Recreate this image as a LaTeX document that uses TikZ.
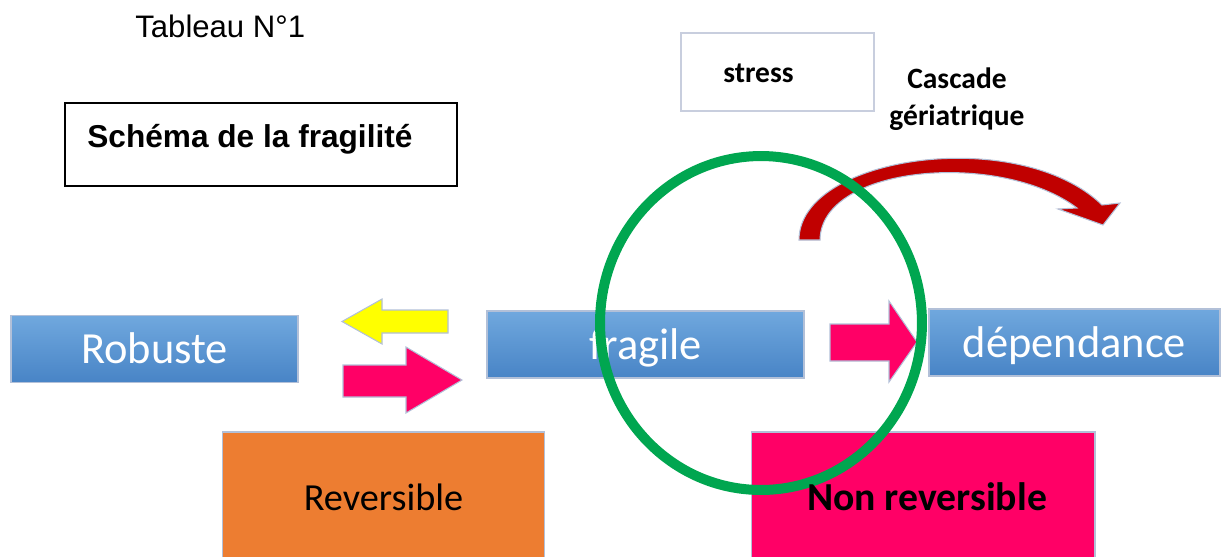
\documentclass[tikz,border=0pt]{standalone}
\usepackage{fontspec}
\setmainfont{Carlito}
\newfontfamily\arialfont{Liberation Sans}
\usepackage{xcolor}
\usepackage{tikz}
\usetikzlibrary{calc, positioning}

\definecolor{bleuhaut}{RGB}{112,168,222}
\definecolor{bleubas}{RGB}{72,132,198}
\definecolor{bordbleu}{RGB}{178,192,216}
\definecolor{cadregris}{RGB}{200,206,222}
\definecolor{jaune}{RGB}{255,255,0}
\definecolor{rose}{RGB}{255,0,102}
\definecolor{orangeb}{RGB}{237,125,49}
\definecolor{rouge}{RGB}{192,0,0}
\definecolor{vert}{RGB}{0,166,80}

\tikzset{
    etat/.style={rectangle, draw=bordbleu, line width=0.8pt, top color=bleuhaut, bottom color=bleubas,
        text=white, inner sep=0pt, minimum height=1.34cm, text height=17pt, text depth=0pt,
        font=\fontsize{25.3}{30}\selectfont},
    bloc/.style={rectangle, draw=bordbleu, line width=0.6pt, inner sep=0pt, minimum height=2.6cm},
    fleche/.style={draw=bordbleu, line width=0.6pt},
    gras/.style={font=\bfseries\fontsize{16.8}{21}\selectfont}
}

\begin{document}
\begin{tikzpicture}[x=0.02cm, y=-0.02cm]
    \useasboundingbox (0,0) rectangle (1225,556);
    \clip (0,0) rectangle (1225,556);

    % 1. Titres
    \node[anchor=base west, inner sep=0pt, font=\arialfont\fontsize{17.7}{20}\selectfont] (tableau) at (135,37) {Tableau N°1};
    \node[draw, line width=0.9pt, minimum width=7.84cm, minimum height=1.66cm, inner sep=0pt] (cadre) at (261,144.5) {};
    \node[anchor=base west, inner sep=0pt, font=\arialfont\bfseries\fontsize{18}{20}\selectfont] (titre) at (87,147) {Schéma de la fragilité};

    \node[draw=cadregris, line width=1.4pt, minimum width=3.86cm, minimum height=1.56cm, inner sep=0pt] (stressbox) at (777.5,72) {};
    \node[gras, anchor=base west, inner sep=0pt] (stress) at (723,82) {stress};
    \node[gras, align=center, inner sep=0pt] (cascade) at (957,99) {Cascade\\gériatrique};

    % 2. Etats
    \node[etat, minimum width=5.74cm] (robuste) at (154.5,349) {Robuste};
    \node[etat, minimum width=6.34cm] (fragile) at (645.5,344.5) {fragile};
    \node[etat, minimum width=5.82cm] (dependance) at (1074.5,342.5) {dépendance};

    \node[bloc, fill=orangeb, minimum width=6.46cm, text height=14.8pt, text depth=0pt,
        font=\fontsize{21.8}{26}\selectfont] (reversible) at (383.5,497) {Reversible};
    \node[bloc, fill=rose, minimum width=6.88cm] (nonrev) at (923,497) {};

    % 3. Fleches
    \draw[fleche, fill=jaune] (342,321.5) -- (382,299) -- (382,310) -- (448,310) -- (448,333)
        -- (382,333) -- (382,344) -- cycle;
    \draw[fleche, fill=rose] (343,365) -- (406,365) -- (406,347) -- (462,380) -- (406,413)
        -- (406,397) -- (343,397) -- cycle;
    \draw[fleche, fill=rose] (830,324) -- (889,324) -- (889,301) -- (917,342) -- (889,382)
        -- (889,361) -- (830,361) -- cycle;

    % cascade
    \draw[fleche, fill=rouge] (799,240) .. controls (799,155) and (1020,125) .. (1102,205)
        -- (1120,203) -- (1103,225) -- (1058,209) -- (1077,208)
        .. controls (1000,150) and (821,165) .. (820,240) -- cycle;

    % 4. Cercle du stress
    \draw[vert, line width=0.2cm] (761,323) ellipse [x radius=3.22cm, y radius=3.34cm];

    \node[anchor=base, inner sep=0pt, font=\bfseries\fontsize{22.6}{26}\selectfont] (nonrevtxt) at (927,510) {Non reversible};
\end{tikzpicture}
\end{document}
